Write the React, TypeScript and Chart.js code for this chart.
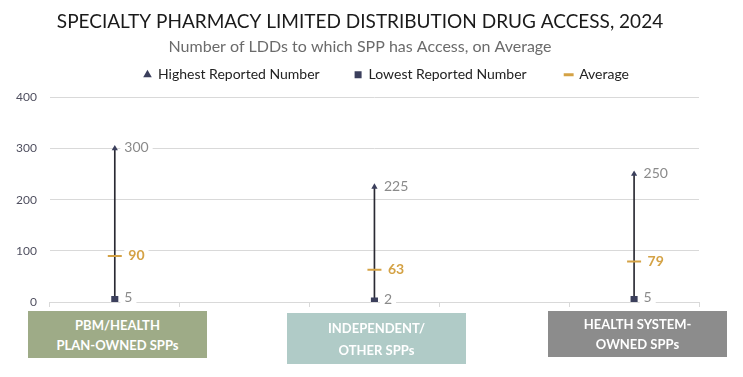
import React, { useEffect, useRef } from 'react';
import { Chart, registerables } from 'chart.js';

Chart.register(...registerables);

// ---------- data ----------
const titleText = 'SPECIALTY PHARMACY LIMITED DISTRIBUTION DRUG ACCESS, 2024';
const subtitleText = 'Number of LDDs to which SPP has Access, on Average';
const categories = ['PBM/HEALTH PLAN-OWNED SPPs', 'INDEPENDENT/OTHER SPPs', 'HEALTH SYSTEM-OWNED SPPs'];
const categoryLines = [
  ['PBM/HEALTH', 'PLAN-OWNED SPPs'],
  ['INDEPENDENT/', 'OTHER SPPs'],
  ['HEALTH SYSTEM-', 'OWNED SPPs'],
];
const seriesNames = ['Highest Reported Number', 'Lowest Reported Number', 'Average'];
const highestValues = [300, 225, 250];
const lowestValues = [5, 2, 5];
const averageValues = [90, 63, 79];
const yTicks = [0, 100, 200, 300, 400];

// ---------- styles ----------
const FONT = 'Lato, "Noto Sans", sans-serif';
const NAVY = '#3b3f5c';
const GOLD = '#d4a245';
const GRID = '#d9d9d9';
const boxColors = ['#9eab87', '#b0cbc7', '#8c8c8c'];
const boxRects = [
  { left: 28, top: 311, width: 179, height: 47, lh: 20 },
  { left: 287, top: 313, width: 179, height: 51, lh: 22 },
  { left: 548, top: 311, width: 179, height: 46, lh: 20 },
];
const legendTrail = ['     ', '      ', ''];
const HEADER_GAP = 5.5; // extra space between legend and plot area

// interleave empty slots between categories so points sit at 1/10, 5/10, 9/10 of the axis
const slotLabels: string[] = categories.flatMap((c, i) => (i < categories.length - 1 ? [c, ''] : [c]));
const toSlots = (vals: any[]) => vals.flatMap((v, i) => (i < vals.length - 1 ? [v, null] : [v]));

const labelStyles: Record<number, { font: string; color: string; dx: number; dy: number }> = {
  1: { font: `14px ${FONT}`, color: '#8a8a8a', dx: 9.5, dy: -0.5 },
  2: { font: `14px ${FONT}`, color: '#8a8a8a', dx: 9.5, dy: -1.5 },
  3: { font: `bold 14px ${FONT}`, color: GOLD, dx: 13.5, dy: 0 },
};

const valueLabelsPlugin = {
  id: 'valueLabels',
  afterDatasetsDraw(chart: any) {
    const ctx = chart.ctx;
    chart.data.datasets.forEach((ds: any, di: number) => {
      const st = labelStyles[di];
      if (!st) return;
      const meta = chart.getDatasetMeta(di);
      meta.data.forEach((pt: any, i: number) => {
        const v = ds.data[i];
        if (v == null) return;
        const text = String(v);
        ctx.save();
        ctx.font = st.font;
        const w = ctx.measureText(text).width;
        const x = pt.x + st.dx;
        const y = pt.y + st.dy;
        ctx.fillStyle = '#ffffff';
        ctx.fillRect(x - 4, y - 9, w + 8, 18);
        ctx.fillStyle = st.color;
        ctx.textBaseline = 'middle';
        ctx.textAlign = 'left';
        ctx.fillText(text, x, y);
        ctx.restore();
      });
    });
  },
};

// placement of title / subtitle / legend blocks
const headerShiftPlugin = {
  id: 'headerShift',
  afterLayout(chart: any) {
    chart.boxes.forEach((b: any) => {
      const txt = b.options && b.options.text;
      if (txt === titleText || txt === subtitleText) {
        b.left = 0;
        b.right = 720;
        b.width = 720;
        b.top -= HEADER_GAP;
        b.bottom -= HEADER_GAP;
      }
    });
    const lg = chart.legend;
    if (lg) {
      lg.left += 35.5;
      lg.right += 35.5;
      lg.top -= HEADER_GAP;
      lg.bottom -= HEADER_GAP;
    }
  },
};

function ChartView() {
  const ref = useRef<HTMLCanvasElement | null>(null);
  useEffect(() => {
    if (!ref.current) return;
    const defaultGen = (Chart as any).defaults.plugins.legend.labels.generateLabels;
    const chart = new Chart(ref.current, {
      type: 'bar',
      data: {
        labels: slotLabels,
        datasets: [
          {
            type: 'bar',
            label: 'range',
            data: toSlots(lowestValues.map((lo, i) => [lo, highestValues[i]])),
            backgroundColor: '#2a2a33',
            barThickness: 1,
            order: 10,
          } as any,
          {
            type: 'line',
            label: seriesNames[0],
            data: toSlots(highestValues),
            showLine: false,
            pointStyle: 'triangle',
            pointRadius: 3.6,
            pointBackgroundColor: NAVY,
            pointBorderColor: NAVY,
            pointBorderWidth: 0,
            backgroundColor: NAVY,
            borderColor: NAVY,
            order: 3,
          },
          {
            type: 'line',
            label: seriesNames[1],
            data: toSlots(lowestValues),
            showLine: false,
            pointStyle: 'rect',
            pointRadius: 5,
            pointBackgroundColor: NAVY,
            pointBorderColor: NAVY,
            pointBorderWidth: 0,
            backgroundColor: NAVY,
            borderColor: NAVY,
            order: 2,
          },
          {
            type: 'line',
            label: seriesNames[2],
            data: toSlots(averageValues),
            showLine: false,
            pointStyle: 'line',
            pointRadius: 7,
            pointBorderWidth: 2,
            pointBorderColor: GOLD,
            pointBackgroundColor: GOLD,
            backgroundColor: GOLD,
            borderColor: GOLD,
            order: 1,
          },
        ],
      },
      options: {
        animation: false,
        responsive: true,
        maintainAspectRatio: false,
        layout: { padding: { left: 3, right: 44, top: HEADER_GAP, bottom: 70 } },
        plugins: {
          title: {
            display: true,
            text: titleText,
            color: '#1a1a1a',
            font: { family: FONT, size: 19, weight: 'normal', lineHeight: 1.2 },
            padding: { top: 10.5, bottom: 4 },
          },
          subtitle: {
            display: true,
            text: subtitleText,
            color: '#6b6b6b',
            font: { family: FONT, size: 16, weight: 'normal', lineHeight: 1.0 },
            padding: { top: 1.5, bottom: -4 },
          },
          legend: {
            display: true,
            labels: {
              usePointStyle: true,
              boxWidth: 7,
              boxHeight: 7,
              padding: 17,
              color: '#222222',
              font: { family: FONT, size: 14 },
              filter: (item: any) => item.datasetIndex !== 0,
              sort: (a: any, b: any) => a.datasetIndex - b.datasetIndex,
              generateLabels: (chart: any) => {
                const items = defaultGen(chart);
                return items.map((it: any) => {
                  if (it.datasetIndex === 3) {
                    it.lineWidth = 3;
                  } else {
                    it.lineWidth = 0;
                  }
                  if (it.datasetIndex > 0) it.text = it.text + legendTrail[it.datasetIndex - 1];
                  return it;
                });
              },
            },
          },
          tooltip: { enabled: false },
        },
        scales: {
          x: {
            type: 'category',
            offset: true,
            ticks: { display: false },
            grid: {
              display: true,
              offset: true,
              drawOnChartArea: false,
              drawTicks: true,
              tickLength: 5,
              color: GRID,
            },
            border: { display: true, color: GRID },
          },
          y: {
            min: yTicks[0],
            max: yTicks[yTicks.length - 1],
            afterBuildTicks: (scale: any) => {
              scale.ticks = yTicks.map((v) => ({ value: v }));
            },
            ticks: {
              padding: 13,
              color: '#505060',
              font: { family: FONT, size: 12 },
            },
            grid: { color: GRID, drawTicks: false },
            border: { display: false },
          },
        },
      },
      plugins: [valueLabelsPlugin, headerShiftPlugin],
    } as any);
    return () => chart.destroy();
  }, []);
  return <canvas ref={ref} />;
}

export default function App() {
  return (
    <div style={{ position: 'absolute', left: 0, top: 0, width: 743, height: 377, background: '#fff' }}>
      <div style={{ position: 'absolute', left: 0, top: 0, width: 743, height: 377 }}>
        <ChartView />
      </div>
      {categoryLines.map((lines, i) => (
        <div
          key={categories[i]}
          style={{
            position: 'absolute',
            left: boxRects[i].left,
            top: boxRects[i].top,
            width: boxRects[i].width,
            height: boxRects[i].height,
            background: boxColors[i],
            color: '#ffffff',
            fontFamily: FONT,
            fontWeight: 'bold',
            fontSize: 13,
            lineHeight: `${boxRects[i].lh}px`,
            display: 'flex',
            flexDirection: 'column',
            justifyContent: 'center',
            alignItems: 'center',
            textAlign: 'center',
          }}
        >
          {lines.map((l) => (
            <div key={l}>{l}</div>
          ))}
        </div>
      ))}
    </div>
  );
}
